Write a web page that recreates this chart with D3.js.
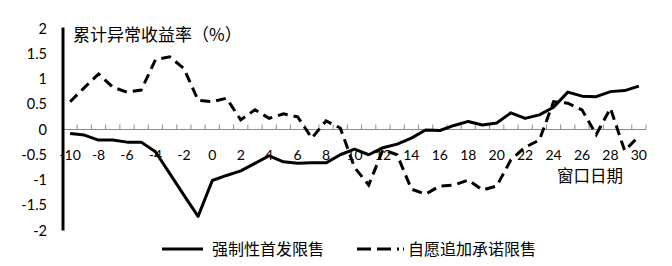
<!DOCTYPE html>
<html>
<head>
<meta charset="utf-8">
<script src="https://cdn.jsdelivr.net/npm/d3@7"></script>
<style>
  body { margin: 0; background: #fff; }
  text { font-family: Lato, "Liberation Sans", sans-serif; }
  .cjk { font-family: "Noto Sans CJK SC", sans-serif; }
</style>
</head>
<body>
<div id="chart"></div>
<script>
// window days -10 .. 30
const days = [-10,-9,-8,-7,-6,-5,-4,-3,-2,-1,0,1,2,3,4,5,6,7,8,9,10,
  11,12,13,14,15,16,17,18,19,20,21,22,23,24,25,26,27,28,29,30];

// 强制性首发限售
const mandatory = [-0.08,-0.11,-0.21,-0.21,-0.25,-0.25,-0.44,-0.87,-1.3,-1.72,-1.01,
  -0.91,-0.82,-0.67,-0.52,-0.64,-0.67,-0.66,-0.66,-0.5,-0.39,
  -0.5,-0.36,-0.29,-0.17,-0.01,-0.02,0.08,0.16,0.09,0.13,
  0.33,0.22,0.29,0.44,0.74,0.66,0.65,0.75,0.77,0.86];

// 自愿追加承诺限售
const voluntary = [0.55,0.83,1.1,0.84,0.74,0.78,1.38,1.44,1.21,0.58,0.55,
  0.62,0.19,0.39,0.22,0.31,0.25,-0.17,0.17,0.03,-0.75,
  -1.1,-0.4,-0.5,-1.18,-1.28,-1.12,-1.1,-1.0,-1.2,-1.12,
  -0.6,-0.35,-0.21,0.55,0.52,0.39,-0.1,0.42,-0.42,-0.13];

const yTicks = [2, 1.5, 1, 0.5, 0, -0.5, -1, -1.5, -2];
const seriesNames = ["强制性首发限售", "自愿追加承诺限售"];

const width = 672, height = 266;
const svg = d3.select("#chart").append("svg")
  .attr("width", width)
  .attr("height", height);

const x = d3.scaleBand().domain(days).range([63, 646]).padding(0);
const y = d3.scaleLinear().domain([-2, 2]).range([230.5, 28.5]);
const cx = d => x(d) + x.bandwidth() / 2;

// y tick labels
svg.append("g")
  .selectAll("text")
  .data(yTicks)
  .join("text")
  .attr("x", 47)
  .attr("y", d => y(d))
  .attr("dy", "0.35em")
  .attr("text-anchor", "end")
  .style("font-size", "14.5px")
  .text(d => d);

// x axis line at zero + upward ticks between categories
const y0 = y(0);
svg.append("line")
  .attr("x1", x.range()[0]).attr("x2", x.range()[1])
  .attr("y1", y0).attr("y2", y0)
  .attr("stroke", "#8c8c8c").attr("stroke-width", 1);

const bounds = days.map(d => x(d)).concat([x.range()[1]]).slice(1);
svg.append("g")
  .selectAll("line")
  .data(bounds)
  .join("line")
  .attr("x1", d => d).attr("x2", d => d)
  .attr("y1", y0 - 5).attr("y2", y0)
  .attr("stroke", "#8c8c8c").attr("stroke-width", 1);

// x labels every 2 days
svg.append("g")
  .selectAll("text")
  .data(days.filter(d => d % 2 === 0))
  .join("text")
  .attr("x", d => cx(d))
  .attr("y", 155)
  .attr("dy", "0.35em")
  .attr("text-anchor", "middle")
  .style("font-size", "14px")
  .text(d => d);

// y axis (thick)
svg.append("line")
  .attr("x1", 63).attr("x2", 63)
  .attr("y1", y(2) - 1).attr("y2", y(-2))
  .attr("stroke", "#000").attr("stroke-width", 3);

// lines
const line = d3.line().x((d, i) => cx(days[i])).y(d => y(d));

svg.append("path")
  .datum(mandatory)
  .attr("d", line)
  .attr("fill", "none")
  .attr("stroke", "#000")
  .attr("stroke-width", 3)
  .attr("stroke-linejoin", "round");

svg.append("path")
  .datum(voluntary)
  .attr("d", line)
  .attr("fill", "none")
  .attr("stroke", "#000")
  .attr("stroke-width", 3)
  .attr("stroke-dasharray", "10,6");

// titles
svg.append("text")
  .attr("class", "cjk")
  .attr("x", 73).attr("y", 35)
  .attr("dy", "0.35em")
  .style("font-size", "17px")
  .text("累计异常收益率（%）");

svg.append("text")
  .attr("class", "cjk")
  .attr("x", 557).attr("y", 176)
  .attr("dy", "0.35em")
  .style("font-size", "16.5px")
  .text("窗口日期");

// legend
const lg = svg.append("g");
lg.append("line")
  .attr("x1", 162).attr("x2", 203).attr("y1", 249).attr("y2", 249)
  .attr("stroke", "#000").attr("stroke-width", 3);
lg.append("text")
  .attr("class", "cjk")
  .attr("x", 212).attr("y", 249).attr("dy", "0.35em")
  .style("font-size", "16px")
  .text(seriesNames[0]);
lg.append("line")
  .attr("x1", 357).attr("x2", 404).attr("y1", 249).attr("y2", 249)
  .attr("stroke", "#000").attr("stroke-width", 3)
  .attr("stroke-dasharray", "14,6,14,6,2,4");
lg.append("text")
  .attr("class", "cjk")
  .attr("x", 408).attr("y", 249).attr("dy", "0.35em")
  .style("font-size", "16px")
  .text(seriesNames[1]);
</script>
</body>
</html>
